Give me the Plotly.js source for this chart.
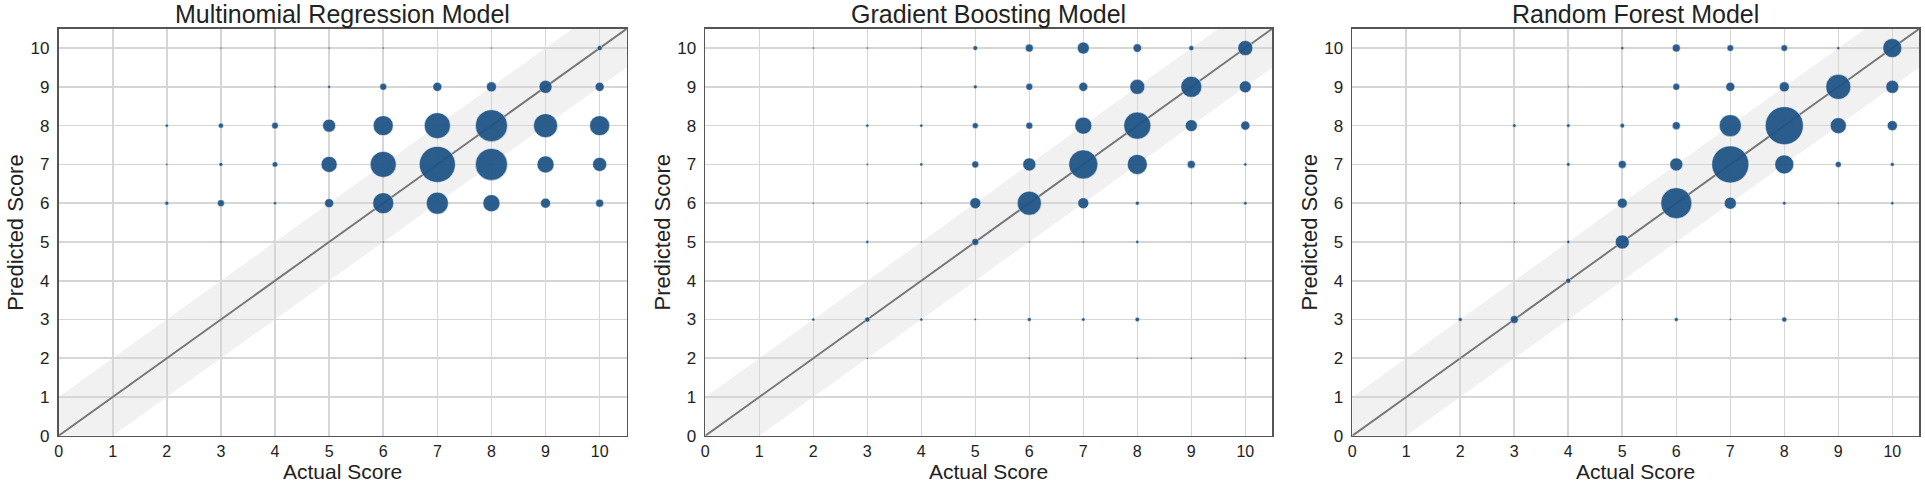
<!DOCTYPE html>
<html>
<head>
<meta charset="utf-8">
<script src="https://cdn.plot.ly/plotly-3.0.1.min.js"></script>
<style>html,body{margin:0;padding:0;background:#fff;}#chart{width:1925px;height:484px;}</style>
</head>
<body>
<div id="chart"></div>
<script>
// ---------- data ----------
const panelTitles = ["Multinomial Regression Model", "Gradient Boosting Model", "Random Forest Model"];
const xAxisTitle = "Actual Score";
const yAxisTitle = "Predicted Score";
const tickValues = [0,1,2,3,4,5,6,7,8,9,10];
const tickLabels = ["0","1","2","3","4","5","6","7","8","9","10"];

// Multinomial Regression: actual, predicted, count
const mrActual    = [3,4,5,6,8,10, 4,5,6,7,8,9,10, 2,3,4,5,6,7,8,9,10, 2,3,4,5,6,7,8,9,10, 2,3,4,5,6,7,8,9,10, 3,6];
const mrPredicted = [10,10,10,10,10,10, 9,9,9,9,9,9,9, 8,8,8,8,8,8,8,8,8, 7,7,7,7,7,7,7,7,7, 6,6,6,6,6,6,6,6,6, 5,5];
const mrCount     = [2,1,2,2,1,10, 2,4,19,32,39,66,32, 4,10,17,66,156,264,400,225,156, 2,6,12,100,264,506,400,113,77, 6,19,4,32,172,189,113,39,25, 1,1];

// Gradient Boosting
const gbActual    = [2,3,4,5,6,7,8,9,10, 4,5,6,7,8,9,10, 3,4,5,6,7,8,9,10, 3,4,5,6,7,8,9,10, 2,3,4,5,6,7,8,9,10, 3,4,5,6,7,8, 2,3,4,5,6,7,8, 3,6,8,9,10];
const gbPredicted = [10,10,10,10,10,10,10,10,10, 9,9,9,9,9,9,9, 8,8,8,8,8,8,8,8, 7,7,7,7,7,7,7,7, 6,6,6,6,6,6,6,6,6, 5,5,5,5,5,5, 3,3,3,3,3,3,3, 2,2,2,2,2];
const gbCount     = [2,2,1,9,25,56,28,10,88, 1,6,19,32,88,172,56, 4,4,14,19,113,285,56,32, 2,4,19,66,329,156,25,4, 1,1,2,47,225,47,6,1,5, 4,1,19,1,1,4, 4,10,4,2,6,5,8, 1,1,1,2,2];

// Random Forest
const rfActual    = [5,6,7,8,9,10, 4,5,6,7,8,9,10, 3,4,5,6,7,8,9,10, 4,5,6,7,8,9,10, 2,3,5,6,7,8,9,10, 3,4,5,6,7, 4, 2,3,4,5,6,7,8, 2];
const rfPredicted = [10,10,10,10,10,10, 9,9,9,9,9,9,9, 8,8,8,8,8,8,8,8, 7,7,7,7,7,7,7, 6,6,6,6,6,6,6,6, 5,5,5,5,5, 4, 3,3,3,3,3,3,3, 2];
const rfCount     = [4,25,17,17,4,141, 1,1,19,32,39,244,66, 5,5,8,25,189,564,100,39, 5,25,66,535,141,14,6, 2,2,39,375,56,5,1,4, 1,4,77,1,1, 10, 6,25,1,1,6,1,10, 1];

const axisMax = 10.5;   // axis range upper bound
const bandHalf = 1;     // +/- 1 point tolerance band

// ---------- styling / layout ----------
const W = 1925, H = 484;
const FONT = "Liberation Sans, Arial, Helvetica, sans-serif";
const TXT = "#222222";
const xDomains = [[0.03044, 0.32556], [0.36639, 0.66094], [0.70249, 0.99704]];
const yDomain = [0.0996, 0.9407];

const datasets = [
  {x: mrActual, y: mrPredicted, c: mrCount},
  {x: gbActual, y: gbPredicted, c: gbCount},
  {x: rfActual, y: rfPredicted, c: rfCount}
];

const traces = [];
const layout = {
  width: W, height: H,
  margin: {l: 0, r: 0, t: 0, b: 0},
  paper_bgcolor: "#ffffff",
  plot_bgcolor: "rgba(0,0,0,0)",
  showlegend: false,
  font: {family: FONT, color: TXT},
  shapes: [],
  annotations: []
};

datasets.forEach((d, i) => {
  const n = i === 0 ? "" : String(i + 1);
  const xa = "x" + n, ya = "y" + n;
  // diagonal line
  traces.push({
    type: "scatter", mode: "lines", xaxis: xa, yaxis: ya,
    x: [0, axisMax], y: [0, axisMax],
    line: {color: "#767676", width: 1.9},
    hoverinfo: "skip"
  });
  // bubbles
  traces.push({
    type: "scatter", mode: "markers", xaxis: xa, yaxis: ya,
    x: d.x, y: d.y,
    marker: {
      size: d.c, sizemode: "area", sizeref: 0.78125, sizemin: 1,
      color: "#1d5285", opacity: 0.93,
      line: {color: "rgba(255,255,255,0.8)", width: 0.6}
    },
    cliponaxis: false
  });
  // tolerance band
  const R = axisMax, b = bandHalf;
  layout.shapes.push({
    type: "path", xref: xa, yref: ya, layer: "below",
    path: `M0,0 L0,${b} L${R - b},${R} L${R},${R} L${R},${R - b} L${b},0 Z`,
    fillcolor: "#f1f1f1", line: {width: 0}
  });
  const axCommon = {
    range: [0, axisMax], tickvals: tickValues, ticktext: tickLabels,
    showgrid: true, gridcolor: "#d6d6d6", gridwidth: 1.6,
    zeroline: false, showline: true, mirror: true, linecolor: "#555555", linewidth: 1.7,
    ticks: "outside", ticklen: 4, tickcolor: "rgba(0,0,0,0)",
    tickfont: {family: FONT, size: 17, color: TXT},
    fixedrange: true
  };
  layout["xaxis" + n] = Object.assign({}, axCommon, {
    domain: xDomains[i], anchor: ya, ticks: "", ticklen: 0,
    tickfont: {family: FONT, size: 16, color: TXT}
  });
  layout["yaxis" + n] = Object.assign({}, axCommon, {domain: yDomain, anchor: xa});

  const cx = (xDomains[i][0] + xDomains[i][1]) / 2;
  layout.annotations.push({
    text: panelTitles[i], xref: "paper", yref: "paper",
    x: cx, y: 1 - 14 / H, xanchor: "center", yanchor: "middle", showarrow: false,
    font: {family: FONT, size: 25, color: TXT}
  });
  layout.annotations.push({
    text: xAxisTitle, xref: "paper", yref: "paper",
    x: cx, y: 0, xanchor: "center", yanchor: "bottom", borderpad: 0, showarrow: false,
    font: {family: FONT, size: 21, color: TXT}
  });
  layout.annotations.push({
    text: yAxisTitle, xref: "paper", yref: "paper", textangle: -90,
    x: xDomains[i][0] - 43 / W, y: (yDomain[0] + yDomain[1]) / 2,
    xanchor: "center", yanchor: "middle", showarrow: false,
    font: {family: FONT, size: 22, color: TXT}
  });
});

Plotly.newPlot("chart", traces, layout, {displayModeBar: false, staticPlot: true});
</script>
</body>
</html>
